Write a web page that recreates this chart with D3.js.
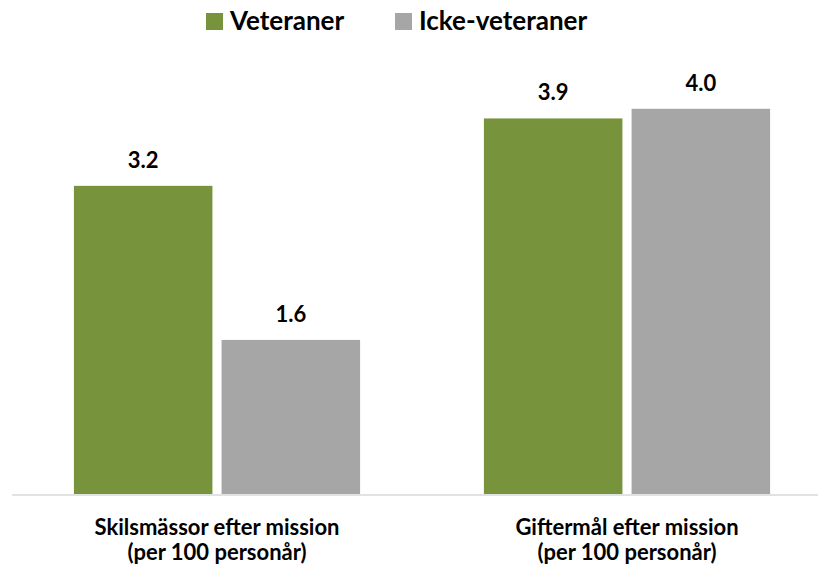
<!DOCTYPE html>
<html>
<head>
<meta charset="utf-8">
<script src="https://cdn.jsdelivr.net/npm/d3@7"></script>
<style>
  body { margin: 0; background: #fff; }
  text { font-family: Lato, "Open Sans", sans-serif; font-weight: bold; fill: #000; }
</style>
</head>
<body>
<div id="chart"></div>
<script>
const w = 818;
const h = 570;
const categories = [
  ["Skilsmässor efter mission", "(per 100 personår)"],
  ["Giftermål efter mission", "(per 100 personår)"],
];
const seriesNames = ["Veteraner", "Icke-veteraner"];
const veteraner = [3.2, 3.9];
const ickeVeteraner = [1.6, 4.0];
const colors = ["#77933c", "#a6a6a6"];

const baseline = 494;
const svg = d3.select("#chart").append("svg").attr("width", w).attr("height", h);

const x0 = d3.scaleBand().domain(d3.range(categories.length)).range([12, 832]).paddingInner(0.302).paddingOuter(0.151);
const x1 = d3.scaleBand().domain(d3.range(seriesNames.length)).range([0, x0.bandwidth()]).paddingInner(0.062);
const y = d3.scaleLinear().domain([0, 4]).range([baseline, baseline - 385.2]);

const rows = categories.map((c, i) => [veteraner[i], ickeVeteraner[i]]);

const groups = svg
  .selectAll("g.grp")
  .data(rows)
  .enter()
  .append("g")
  .attr("class", "grp")
  .attr("transform", (d, i) => `translate(${x0(i)},0)`);

groups
  .selectAll("rect")
  .data((d) => d)
  .enter()
  .append("rect")
  .attr("x", (d, j) => x1(j))
  .attr("y", (d) => y(d))
  .attr("width", x1.bandwidth())
  .attr("height", (d) => y(0) - y(d))
  .attr("fill", (d, j) => colors[j]);

groups
  .selectAll("text.val")
  .data((d) => d)
  .enter()
  .append("text")
  .attr("class", "val")
  .attr("x", (d, j) => x1(j) + x1.bandwidth() / 2)
  .attr("y", (d) => y(d) - 18)
  .attr("text-anchor", "middle")
  .attr("font-size", 22)
  .text((d) => d.toFixed(1));

// axis line
svg
  .append("line")
  .attr("x1", 12)
  .attr("x2", w)
  .attr("y1", baseline + 1)
  .attr("y2", baseline + 1)
  .attr("stroke", "#d9d9d9")
  .attr("stroke-width", 1.5);

const catLabels = svg
  .selectAll("text.cat")
  .data(categories)
  .enter()
  .append("text")
  .attr("class", "cat")
  .attr("text-anchor", "middle")
  .attr("font-size", 22)
  .attr("transform", (d, i) => `translate(${x0(i) + x0.bandwidth() / 2},535)`);
catLabels
  .selectAll("tspan")
  .data((d) => d)
  .enter()
  .append("tspan")
  .attr("x", 0)
  .attr("y", (d, i) => i * 25)
  .text((d) => d);

// legend
const legendX = [206, 395];
const legend = svg
  .selectAll("g.leg")
  .data(seriesNames)
  .enter()
  .append("g")
  .attr("class", "leg")
  .attr("transform", (d, i) => `translate(${legendX[i]},13)`);
legend
  .append("rect")
  .attr("width", 17)
  .attr("height", 17)
  .attr("fill", (d, i) => colors[i]);
legend
  .append("text")
  .attr("x", 24)
  .attr("y", 17)
  .attr("font-size", 26)
  .text((d) => d);
</script>
</body>
</html>
